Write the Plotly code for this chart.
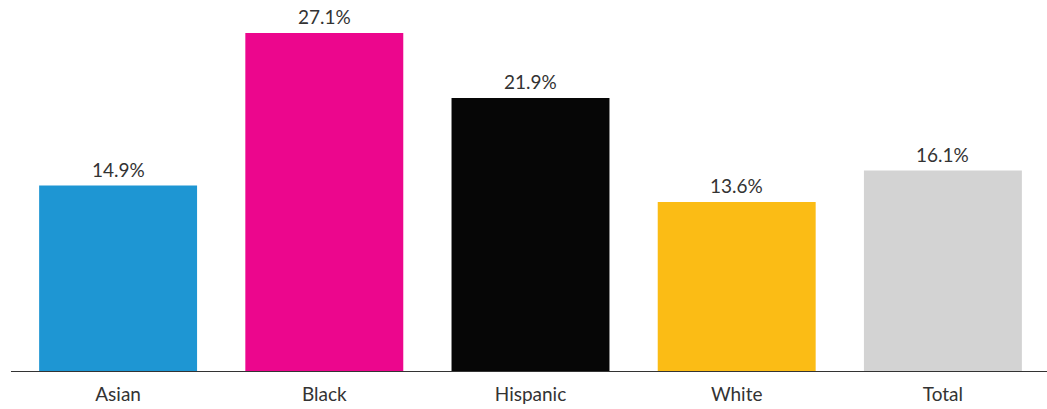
import plotly.graph_objects as go

categories = ["Asian", "Black", "Hispanic", "White", "Total"]
values = [14.9, 27.1, 21.9, 13.6, 16.1]
labels = ["14.9%", "27.1%", "21.9%", "13.6%", "16.1%"]
colors = ["#1E96D3", "#EC068D", "#060606", "#FBBC15", "#D3D3D3"]

fig = go.Figure()
fig.add_trace(go.Bar(
    x=categories, y=values, marker=dict(color=colors, line=dict(width=0)),
    hoverinfo="skip",
))
for c, v, t in zip(categories, values, labels):
    fig.add_annotation(x=c, y=v, text=t, showarrow=False, yanchor="bottom",
                       yshift=3, font=dict(family="Lato", size=19, color="#333333"))

fig.update_layout(
    width=1047, height=409,
    margin=dict(l=15, r=1, t=10, b=37),
    paper_bgcolor="white", plot_bgcolor="white",
    bargap=0.234, showlegend=False,
    font=dict(family="Lato", size=19, color="#333333"),
    xaxis=dict(showgrid=False, showline=False, ticks="", automargin=False,
               ticklabelstandoff=9,
               tickfont=dict(family="Lato", size=19, color="#333333")),
    yaxis=dict(range=[0, 28.94], visible=False),
    shapes=[dict(type="line", xref="paper", yref="y", x0=-0.0039, x1=1.001, y0=0, y1=0,
                 line=dict(color="#333333", width=2))],
)
fig.write_html("out.html", config={"displayModeBar": False},
               post_script="document.body.style.margin='0';document.body.style.overflow='hidden';")
